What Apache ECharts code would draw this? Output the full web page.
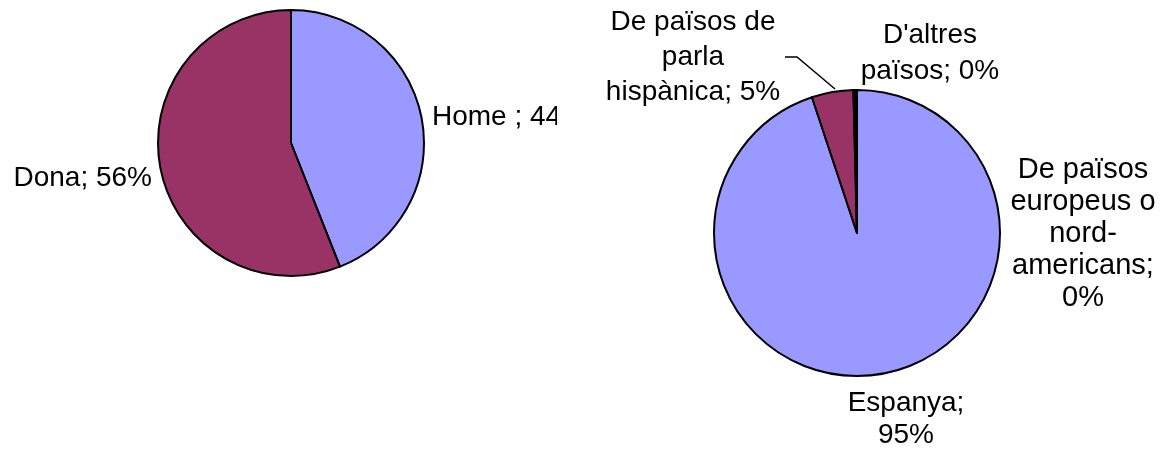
<!DOCTYPE html>
<html>
<head>
<meta charset="utf-8">
<script src="https://cdn.jsdelivr.net/npm/echarts@6/dist/echarts.min.js"></script>
<style>
    html, body { margin: 0; padding: 0; background: #fff; }
    #wrap { position: relative; width: 1164px; height: 452px; overflow: hidden; }
    #left { position: absolute; left: 0; top: 0; width: 557px; height: 452px; }
    #right { position: absolute; left: 557px; top: 0; width: 607px; height: 452px; }
</style>
</head>
<body>
<div id="wrap">
    <div id="left"></div>
    <div id="right"></div>
</div>
<script>
// Sexe
const genderNames = ['Home ', 'Dona'];
const genderValues = [44, 56];

// Procedència
const originNames = ['Espanya', 'De països de parla hispànica', 'De països europeus o nord-americans', "D'altres països"];
const originLabels = ['Espanya;\n', 'De països de\nparla\nhispànica; ', 'De països\neuropeus o\nnord-\namericans;\n', "D'altres\npaïsos; "];
const originValues = [94.9, 4.7, 0.2, 0.2];

const COLORS = ['#9999FF', '#993366', '#FFFFCC', '#CCFFFF'];
const FONT = "'Liberation Sans', Arial, sans-serif";

// label anchors (chart-local px)
const genderLabelPos = [
    { x: 432, y: 117, align: 'left' },
    { x: 152, y: 178, align: 'right' },
];
const originLabelPos = [
    { x: 349, y: 419, lh: 32, fs: 28 },
    { x: 136, y: 57, lh: 35, fs: 28, line: [[278, 89], [240, 57], [228, 57]] },
    { x: 526, y: 234, lh: 32, fs: 29 },
    { x: 373, y: 53, lh: 36, fs: 28 },
];

const baseLabel = { show: true, color: '#000', fontFamily: FONT, fontSize: 28 };
const sliceStyle = { borderColor: '#000', borderWidth: 2 };

const left = echarts.init(document.getElementById('left'));
left.setOption({
    animation: false,
    color: COLORS,
    series: [{
        type: 'pie',
        center: [291, 143],
        radius: 133,
        startAngle: 90,
        avoidLabelOverlap: false,
        itemStyle: sliceStyle,
        label: { ...baseLabel, formatter: p => p.name + '; ' + Math.round(p.percent) + '%' },
        labelLine: { show: false },
        labelLayout: p => ({
            x: genderLabelPos[p.dataIndex].x,
            y: genderLabelPos[p.dataIndex].y,
            align: genderLabelPos[p.dataIndex].align,
            verticalAlign: 'middle',
        }),
        emphasis: { disabled: true },
        data: genderNames.map((n, i) => ({ name: n, value: genderValues[i] })),
    }],
});

const right = echarts.init(document.getElementById('right'));
right.setOption({
    animation: false,
    color: COLORS,
    series: [{
        type: 'pie',
        center: [300, 233],
        radius: 143,
        startAngle: 90,
        avoidLabelOverlap: false,
        itemStyle: sliceStyle,
        label: {
            ...baseLabel,
            align: 'center',
            formatter: p => originLabels[p.dataIndex] + Math.round(p.percent) + '%',
        },
        labelLine: { show: false, lineStyle: { color: '#000', width: 1.5 } },
        labelLayout: p => {
            const pos = originLabelPos[p.dataIndex];
            const out = { x: pos.x, y: pos.y, align: 'center', verticalAlign: 'middle' };
            if (pos.line) out.labelLinePoints = pos.line;
            return out;
        },
        emphasis: { disabled: true },
        data: originNames.map((n, i) => ({
            name: n,
            value: originValues[i],
            label: { lineHeight: originLabelPos[i].lh, fontSize: originLabelPos[i].fs },
            labelLine: { show: !!originLabelPos[i].line },
        })),
    }],
});
</script>
</body>
</html>
